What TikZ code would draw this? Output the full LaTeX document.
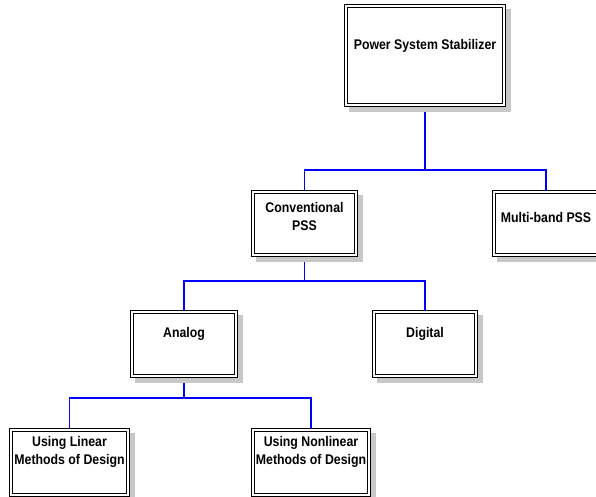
\documentclass[tikz,border=0pt]{standalone}
\usepackage{fontspec}
\setmainfont{Liberation Sans}[FakeStretch=0.88]
\usetikzlibrary{backgrounds}
\definecolor{edgeblue}{RGB}{0,0,255}
\definecolor{shadowgray}{RGB}{200,200,200}
\tikzset{
  box/.style={draw=black, line width=1.1pt, fill=white, rectangle, inner sep=0pt, outer sep=0pt},
  inner border/.style={draw=black, line width=1pt},
  shadowfill/.style={fill=shadowgray},
  lbl/.style={font=\bfseries\fontsize{14}{18}\selectfont, align=center, inner sep=0pt},
  conn/.style={draw=edgeblue, line width=1.8pt}
}
\newcommand{\boxat}[5]{% name, x1, y1, x2, y2
  \fill[shadowfill] (#2+5,#3+5) rectangle (#4+5,#5+5);
  \node[box, minimum width={#4-#2-1.1pt}, minimum height={#5-#3-1.1pt}] (#1) at ({(#2+#4)/2},{(#3+#5)/2}) {};
  \draw[inner border] (#2+3.2,#3+3.2) rectangle (#4-3.2,#5-3.2);}
\begin{document}
\begin{tikzpicture}[x=1pt,y=-1pt]
\clip (0,0) rectangle (596,497);
\coordinate (j1) at (425,170);
\coordinate (j2) at (304.5,281);
\coordinate (j3) at (184,398);
\coordinate (pssb) at (425,107);
\coordinate (convb) at (304.5,257);
\coordinate (analogb) at (184,378);
\draw[conn] (pssb) -- (j1);
\draw[conn] (convb) -- (j2);
\draw[conn] (analogb) -- (j3);
\boxat{pss}{344}{4}{506}{107}
\boxat{conv}{251}{190}{358}{257}
\boxat{multi}{492}{190}{600}{257}
\boxat{analog}{130}{310}{238}{378}
\boxat{digital}{372}{310}{478}{378}
\boxat{lin}{9}{428}{130}{497}
\boxat{nonlin}{251}{428}{371}{497}
\draw[conn] (j1) -| (conv.north);
\draw[conn] (j1) -| (multi.north);
\draw[conn] (j2) -| (analog.north);
\draw[conn] (j2) -| (digital.north);
\draw[conn] (j3) -| (lin.north);
\draw[conn] (j3) -| (nonlin.north);
\node[lbl] (tpss) at (425,46) {Power System Stabilizer};
\node[lbl] (tconv) at (304.5,216) {Conventional\\PSS};
\node[lbl] (tmulti) at (546,217) {Multi-band PSS};
\node[lbl] (tanalog) at (184,334) {Analog};
\node[lbl] (tdigital) at (425,334) {Digital};
\node[lbl] (tlin) at (69.5,452) {Using Linear\\Methods of Design};
\node[lbl] (tnonlin) at (311,452) {Using Nonlinear\\Methods of Design};
\end{tikzpicture}
\end{document}
